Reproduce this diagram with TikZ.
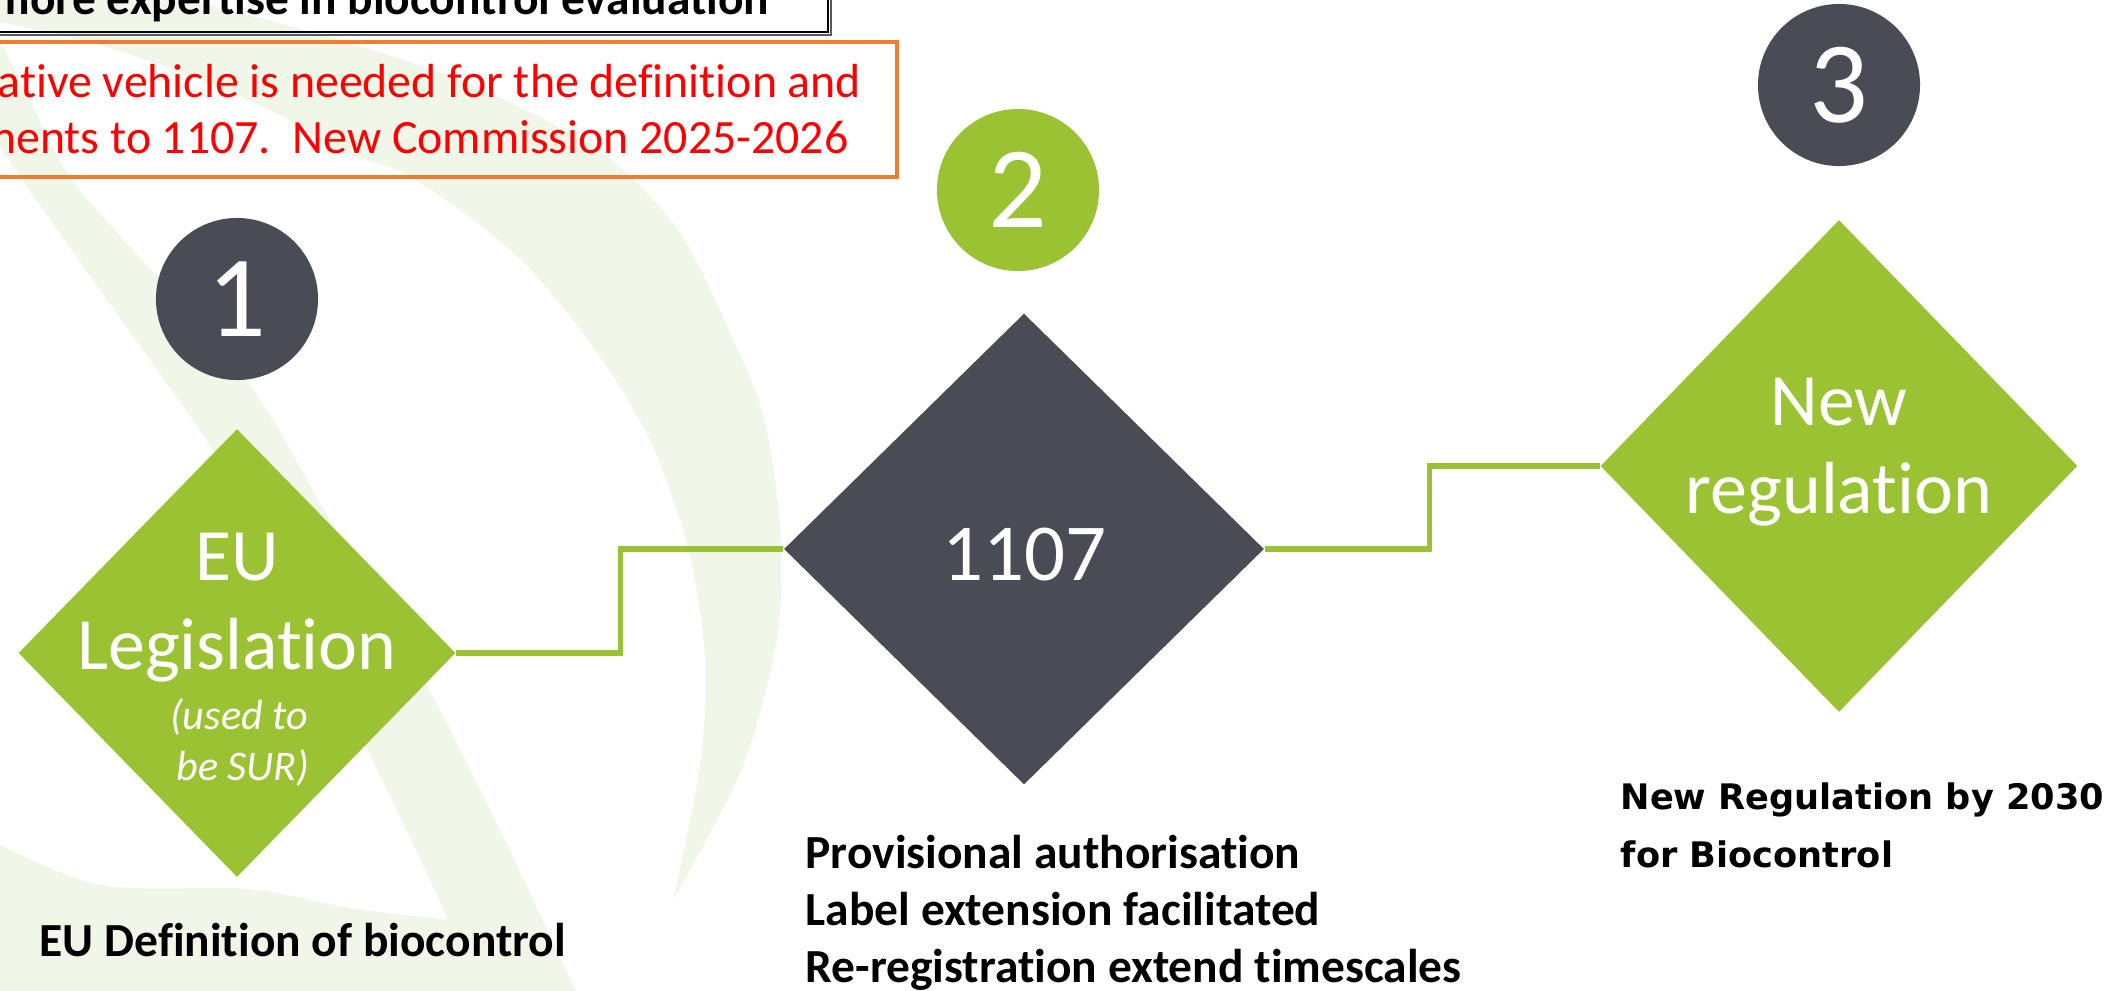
\documentclass[tikz,border=0pt]{standalone}
\usepackage{fontspec}
\setmainfont{Carlito}[Ligatures={TeX,NoCommon}]
\newfontfamily\verdfont{DejaVu Sans}
\usetikzlibrary{shapes.geometric}

\definecolor{leafgreen}{HTML}{9BC232}
\definecolor{slate}{HTML}{494C54}
\definecolor{palegreen}{HTML}{F1F7E8}
\definecolor{boxorange}{HTML}{ED7D31}

\tikzset{
  stage/.style={diamond, inner sep=0pt, draw=none},
  badge/.style={circle, minimum size=1.62cm, inner sep=0pt, text=white, font=\fontsize{33}{33}\selectfont},
  link/.style={draw=leafgreen, line width=1.5pt},
  inword/.style={text=white, inner sep=0pt, anchor=base, font=\fontsize{21}{21}\selectfont},
  smallword/.style={inword, font=\itshape\fontsize{12}{12}\selectfont},
  note/.style={inner sep=0pt, anchor=base west, font=\bfseries\fontsize{13.5}{13.5}\selectfont},
  rednote/.style={inner sep=0pt, anchor=base east, text=red, font=\fontsize{13.6}{13.6}\selectfont},
  widenote/.style={note, font=\verdfont\bfseries\fontsize{10}{10}\selectfont}
}

\begin{document}
\begin{tikzpicture}[x=0.01cm, y=-0.01cm]
\useasboundingbox (0,0) rectangle (2126,990);
\clip (0,0) rectangle (2126,990);

% pale leaf in the background
\fill[palegreen] plot[smooth] coordinates {(150,-10) (315,33) (460,80) (598,150) (678,230) (732,337) (764,418) (780,525) (778,632) (743,766) (673,900)}
  -- plot[smooth] coordinates {(673,900) (700,766) (705,659) (689,552) (652,445) (598,354) (518,257) (411,177) (336,150) (280,115) (200,80) (100,45) (-10,20)}
  -- (-10,-10) -- cycle;
\fill[palegreen] plot[smooth] coordinates {(-100,0) (-20,100) (0,147) (100,290) (210,446) (300,600) (368,750) (448,921) (464,1000)}
  -- plot[smooth] coordinates {(580,1000) (500,830) (427,686) (330,520) (250,384) (160,280) (71,179) (30,100) (0,40)} -- cycle;
\fill[palegreen] plot[smooth] coordinates {(-10,840) (100,885) (250,889) (350,908) (460,921)}
  -- (470,1000) -- (-10,1000) -- cycle;

% boxes at the top
\draw[black!65, line width=0.8pt] (-10,35) -| (831,-10);
\draw[black, line width=0.8pt] (-10,-10) rectangle (828,32);
\node[note, anchor=base east] (expert) at (770,14) {more expertise in biocontrol evaluation};
\draw[boxorange, line width=1pt] (-10,42) rectangle (897,177);
\node[rednote] (redA) at (862,97) {ative vehicle is needed for the definition and};
\node[rednote] (redB) at (849,153) {ments to 1107.\ \ New Commission 2025-2026};

% steps
\node[stage, fill=leafgreen, minimum width=4.37cm, minimum height=4.48cm] (legis) at (237,653) {};
\node[stage, fill=slate, minimum width=4.8cm, minimum height=4.71cm] (reg) at (1024,549) {};
\node[stage, fill=leafgreen, minimum width=4.77cm, minimum height=4.92cm] (newreg) at (1839,466) {};

\draw[link] (legis.east) -- ++(164,0) |- (reg.west);
\draw[link] (reg.east) -- ++(165,0) |- (newreg.west);

\node[badge, fill=slate] (one) at (237,299) {1};
\node[badge, fill=leafgreen] (two) at (1018,190) {2};
\node[badge, fill=slate] (three) at (1839,85) {3};

\node[inword] (eu) at (237,580) {EU};
\node[inword] (legword) at (237,669) {Legislation};
\node[smallword] (used) at (239,729) {(used to};
\node[smallword] (sur) at (243,780) {be SUR)};
\node[inword, font=\fontsize{23}{23}\selectfont] (num) at (1024,580) {1107};
\node[inword] (newword) at (1839,425) {New};
\node[inword] (regword) at (1839,513) {regulation};

% texts below
\node[note] (defn) at (39,956) {EU Definition of biocontrol};
\node[note] (prov) at (805,868) {Provisional authorisation};
\node[note] (label) at (805,925) {Label extension facilitated};
\node[note] (rereg) at (805,982) {Re-registration extend timescales};
\node[widenote] (by2030) at (1620,809) {New Regulation by 2030};
\node[widenote] (biocon) at (1620,867) {for Biocontrol};
\end{tikzpicture}
\end{document}
